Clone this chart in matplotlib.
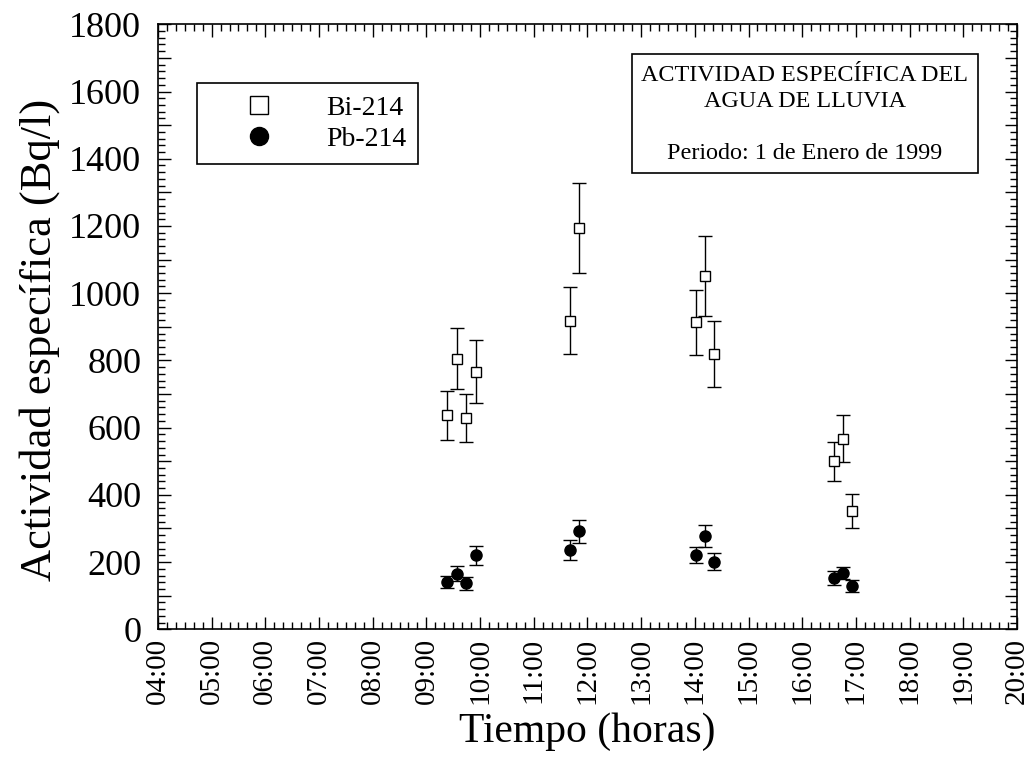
import matplotlib
matplotlib.use('Agg')
import matplotlib.pyplot as plt
from matplotlib.lines import Line2D
from matplotlib.patches import Rectangle
from matplotlib.ticker import MultipleLocator, FuncFormatter

plt.rcParams['font.family'] = ['Liberation Serif', 'DejaVu Serif']

# muestras (hora local) y actividad especifica en Bq/l
horas = ['09:23', '09:34', '09:44', '09:55', '11:40', '11:50',
         '14:01', '14:11', '14:21', '16:36', '16:46', '16:56']
bi214 = [637, 805, 629, 767, 918, 1194, 913, 1051, 819, 500, 567, 351]
bi214_err = [73, 91, 72, 93, 100, 134, 98, 120, 98, 58, 70, 51]
pb214 = [141, 165, 137, 220, 236, 291, 221, 278, 201, 153, 168, 128]
pb214_err = [19, 22, 19, 28, 29, 33, 25, 33, 26, 20, 18, 18]

def a_horas(s):
    h, m = s.split(':')
    return int(h) + int(m) / 60.0

t = [a_horas(s) for s in horas]

fig = plt.figure(figsize=(10.31, 7.65), dpi=100)
ax = fig.add_axes([0.1532, 0.1774, 0.8332, 0.7908])

ax.errorbar(t, bi214, yerr=bi214_err, fmt='s', mfc='white', mec='black', mew=1.0,
            ms=7, ecolor='black', elinewidth=1.0, capsize=5, capthick=1.0, zorder=3)
ax.errorbar(t, pb214, yerr=pb214_err, fmt='o', mfc='black', mec='black',
            ms=8, ecolor='black', elinewidth=1.0, capsize=5, capthick=1.0, zorder=3)

ax.set_xlim(4, 20)
ax.set_ylim(0, 1800)
ax.xaxis.set_major_locator(MultipleLocator(1))
ax.xaxis.set_minor_locator(MultipleLocator(1 / 6.0))
ax.xaxis.set_major_formatter(FuncFormatter(lambda v, p: '%02d:00' % int(round(v))))
ax.yaxis.set_major_locator(MultipleLocator(100))
ax.yaxis.set_minor_locator(MultipleLocator(20))
ax.yaxis.set_major_formatter(FuncFormatter(lambda v, p: '%d' % v if int(round(v)) % 200 == 0 else ''))

ax.tick_params(which='both', direction='in', top=True, right=True, width=1.0)
ax.tick_params(which='major', length=9)
ax.tick_params(which='minor', length=5)
ax.tick_params(axis='x', which='major', labelsize=21, rotation=90, pad=6)
ax.tick_params(axis='y', which='major', labelsize=26, pad=12)
for s in ax.spines.values():
    s.set_linewidth(1.2)

ax.set_xlabel('Tiempo (horas)', fontsize=30, labelpad=6)
ax.set_ylabel('Actividad específica (Bq/l)', fontsize=32)
ax.yaxis.set_label_coords(-0.114, 0.478)

handles = [Line2D([], [], ls='none', marker='s', ms=13, mfc='white', mec='black', mew=1.0),
           Line2D([], [], ls='none', marker='o', ms=13, mfc='black', mec='black')]
leg = ax.legend(handles, ['Bi-214', 'Pb-214'], loc='upper left',
                bbox_to_anchor=(0.045, 0.903), fontsize=20,
                handlelength=3.6, handletextpad=0.6, borderpad=0.45,
                labelspacing=0.2, fancybox=False, edgecolor='black',
                framealpha=1, borderaxespad=0)
leg.get_frame().set_linewidth(1.2)

# recuadro del titulo
ax.add_patch(Rectangle((0.5518, 0.7542), 0.4028, 0.1967, transform=ax.transAxes,
                       fc='white', ec='black', lw=1.2, zorder=4))
ax.text(0.7532, 0.851, 'ACTIVIDAD ESPECÍFICA DEL\nAGUA DE LLUVIA\n\nPeriodo: 1 de Enero de 1999',
        transform=ax.transAxes, ha='center', va='center', multialignment='center',
        fontsize=17.4, linespacing=1.33, zorder=5)

fig.savefig('out.png', dpi=100)
